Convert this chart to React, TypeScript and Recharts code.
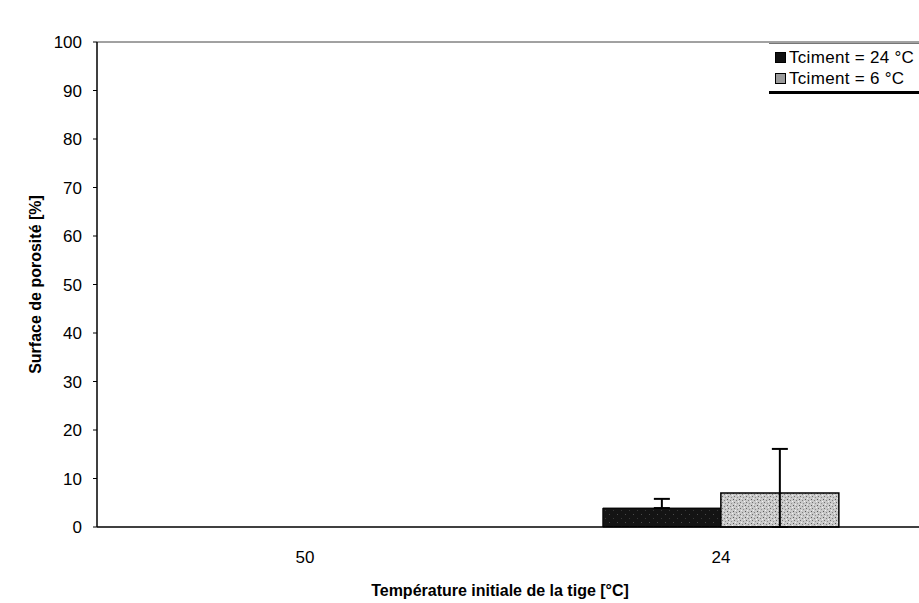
import React from 'react';
import { BarChart, Bar, XAxis, YAxis, ErrorBar, ReferenceLine, Legend } from 'recharts';

const categories = ['50', '24'];
const tciment24 = [0, 3.9];
const tciment6 = [0, 7.0];
const err24: (number[] | null)[] = [null, [0, 1.9]];
const err6: (number[] | null)[] = [null, [7.0, 9.1]];
const yTicks = [0, 10, 20, 30, 40, 50, 60, 70, 80, 90, 100];
const seriesNames = ['Tciment = 24 °C', 'Tciment = 6 °C'];

const data = categories.map((c, i) => ({
  cat: c,
  t24: tciment24[i],
  t6: tciment6[i],
  e24: err24[i],
  e6: err6[i],
}));

const FONT = '"Liberation Sans", Arial, sans-serif';

const LegendBox = () => (
  <div
    style={{
      background: '#fff',
      borderTop: '1px solid #777',
      borderBottom: '3px solid #000',
      padding: '3px 8px 2px 6px',
      fontFamily: FONT,
      fontSize: 17,
      letterSpacing: 0.3,
      color: '#000',
      lineHeight: '21px',
      width: 160,
      boxSizing: 'border-box',
    }}
  >
    {seriesNames.map((n, i) => (
      <div key={n} style={{ display: 'flex', alignItems: 'center', whiteSpace: 'nowrap' }}>
        <span
          style={{
            display: 'inline-block',
            width: 9,
            height: 9,
            background: i === 0 ? '#111' : '#9a9a9a',
            border: '1px solid #000',
            marginRight: 3,
          }}
        />
        <span>{n}</span>
      </div>
    ))}
  </div>
);

export default function App() {
  return (
    <div style={{ position: 'absolute', left: 0, top: 0, width: 919, height: 603, overflow: 'hidden', background: '#fff' }}>
      <BarChart
        width={940}
        height={603}
        data={data}
        margin={{ top: 42, right: 11, bottom: 0, left: 0 }}
        barCategoryGap="21.6%"
        barGap={0}
      >
        <defs>
          <pattern id="speckle" width="6" height="6" patternUnits="userSpaceOnUse">
            <rect width="6" height="6" fill="#c9c9c9" />
            <rect x="1" y="1" width="1" height="1" fill="#5a5a5a" />
            <rect x="4" y="2" width="1" height="1" fill="#808080" />
            <rect x="2" y="4" width="1" height="1" fill="#6e6e6e" />
            <rect x="5" y="5" width="1" height="1" fill="#909090" />
            <rect x="0" y="3" width="1" height="1" fill="#f2f2f2" />
            <rect x="3" y="0" width="1" height="1" fill="#eeeeee" />
          </pattern>
          <pattern id="darkspeckle" width="8" height="8" patternUnits="userSpaceOnUse">
            <rect width="8" height="8" fill="#141414" />
            <rect x="1" y="2" width="1" height="1" fill="#4a4a4a" />
            <rect x="5" y="6" width="1" height="1" fill="#3a3a3a" />
          </pattern>
        </defs>
        <XAxis
          dataKey="cat"
          height={76}
          axisLine={{ stroke: '#000', strokeWidth: 1.5 }}
          tickLine={false}
          tickMargin={18}
          tick={{ fill: '#000', fontSize: 17, fontFamily: FONT }}
          label={{
            value: 'Température initiale de la tige [°C]',
            position: 'center',
            dy: 25,
            dx: -13,
            style: { fontWeight: 'bold', fontSize: 16, fontFamily: FONT, fill: '#000' },
          }}
        />
        <YAxis
          width={97}
          domain={[0, 100]}
          ticks={yTicks}
          interval={0}
          axisLine={{ stroke: '#000', strokeWidth: 1.5 }}
          tickLine={{ stroke: '#000' }}
          tickSize={4}
          tickMargin={11}
          tick={{ fill: '#000', fontSize: 17, fontFamily: FONT }}
          label={{
            value: 'Surface de porosité [%]',
            angle: -90,
            position: 'center',
            dx: -13,
            style: { fontWeight: 'bold', fontSize: 16, fontFamily: FONT, fill: '#000', textAnchor: 'middle' },
          }}
        />
        <ReferenceLine y={100} stroke="#444" strokeWidth={1} />
        <Legend
          layout="horizontal"
          verticalAlign="middle"
          align="center"
          content={() => <LegendBox />}
          wrapperStyle={{ position: 'absolute', left: 769, top: 43, width: 'auto', height: 'auto' }}
        />
        <Bar dataKey="t24" name={seriesNames[0]} fill="url(#darkspeckle)" stroke="#000" strokeWidth={1} isAnimationActive={false}>
          <ErrorBar dataKey="e24" width={8} stroke="#000" strokeWidth={2} direction="y" />
        </Bar>
        <Bar dataKey="t6" name={seriesNames[1]} fill="url(#speckle)" stroke="#000" strokeWidth={1.5} isAnimationActive={false}>
          <ErrorBar dataKey="e6" width={8} stroke="#000" strokeWidth={2} direction="y" />
        </Bar>
      </BarChart>
    </div>
  );
}
